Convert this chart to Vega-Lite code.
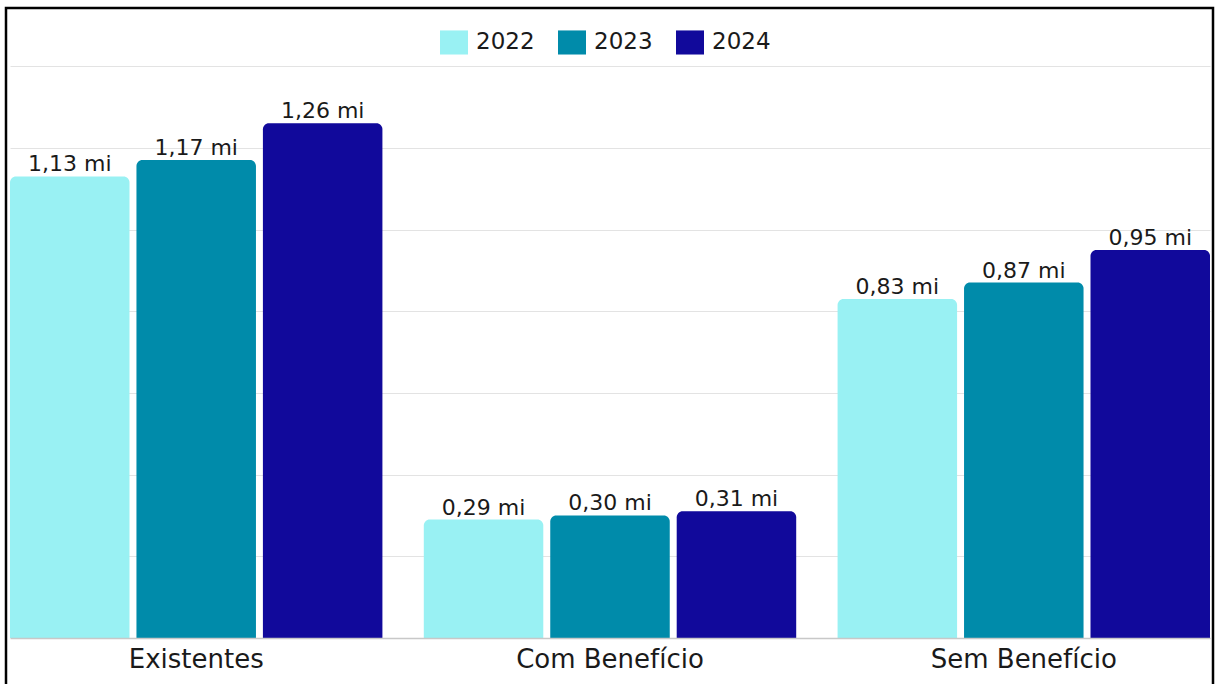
{
  "$schema": "https://vega.github.io/schema/vega-lite/v6.json",
  "width": 1207,
  "height": 680,
  "padding": {"left": 6, "top": 8, "right": 5, "bottom": 0},
  "background": "white",
  "config": {
    "view": {"stroke": "#000000", "strokeWidth": 2.5},
    "font": "DejaVu Sans"
  },
  "data": {
    "values": [
      {"categoria": "Existentes", "ano": "2022", "valor": 1.13, "rotulo": "1,13 mi"},
      {"categoria": "Existentes", "ano": "2023", "valor": 1.17, "rotulo": "1,17 mi"},
      {"categoria": "Existentes", "ano": "2024", "valor": 1.26, "rotulo": "1,26 mi"},
      {"categoria": "Com Benefício", "ano": "2022", "valor": 0.29, "rotulo": "0,29 mi"},
      {"categoria": "Com Benefício", "ano": "2023", "valor": 0.30, "rotulo": "0,30 mi"},
      {"categoria": "Com Benefício", "ano": "2024", "valor": 0.31, "rotulo": "0,31 mi"},
      {"categoria": "Sem Benefício", "ano": "2022", "valor": 0.83, "rotulo": "0,83 mi"},
      {"categoria": "Sem Benefício", "ano": "2023", "valor": 0.87, "rotulo": "0,87 mi"},
      {"categoria": "Sem Benefício", "ano": "2024", "valor": 0.95, "rotulo": "0,95 mi"}
    ]
  },
  "encoding": {
    "x": {
      "field": "categoria",
      "type": "nominal",
      "sort": ["Existentes", "Com Benefício", "Sem Benefício"],
      "scale": {"range": [4, 1204], "paddingInner": 0.1, "paddingOuter": 0},
      "axis": {
        "title": null,
        "orient": "bottom",
        "offset": -50,
        "ticks": false,
        "labelAngle": 0,
        "labelFontSize": 26,
        "labelLimit": 0,
        "labelColor": "#1a1a1a",
        "labelPadding": 8,
        "domainColor": "#c8c8c8",
        "domainWidth": 1.5,
        "zindex": 1
      }
    },
    "xOffset": {
      "field": "ano",
      "type": "nominal",
      "scale": {"paddingInner": 0.055, "paddingOuter": 0}
    },
    "y": {
      "field": "valor",
      "type": "quantitative",
      "scale": {"domain": [-0.1224, 1.5423], "nice": false, "zero": false},
      "axis": {
        "title": null,
        "labels": false,
        "ticks": false,
        "domain": false,
        "values": [0.2, 0.4, 0.6, 0.8, 1.0, 1.2, 1.4],
        "gridColor": "#e3e3e3",
        "gridWidth": 1
      }
    }
  },
  "layer": [
    {
      "mark": {"type": "bar", "cornerRadiusTopLeft": 6, "cornerRadiusTopRight": 6},
      "encoding": {
        "y2": {"datum": 0},
        "color": {
          "field": "ano",
          "type": "nominal",
          "scale": {"domain": ["2022", "2023", "2024"], "range": ["#99F1F3", "#008BAA", "#11099B"]},
          "legend": {
            "title": null,
            "orient": "none",
            "direction": "horizontal",
            "legendX": 434,
            "legendY": 20,
            "symbolType": "M-1,-0.86H1V0.86H-1Z",
            "symbolSize": 784,
            "symbolStrokeWidth": 0,
            "labelFontSize": 23,
            "labelColor": "#1a1a1a",
            "labelOffset": 8,
            "columnPadding": 23,
            "padding": 0
          }
        }
      }
    },
    {
      "mark": {"type": "text", "baseline": "alphabetic", "dy": -5, "fontSize": 22, "color": "#1a1a1a"},
      "encoding": {
        "text": {"field": "rotulo"}
      }
    }
  ]
}
